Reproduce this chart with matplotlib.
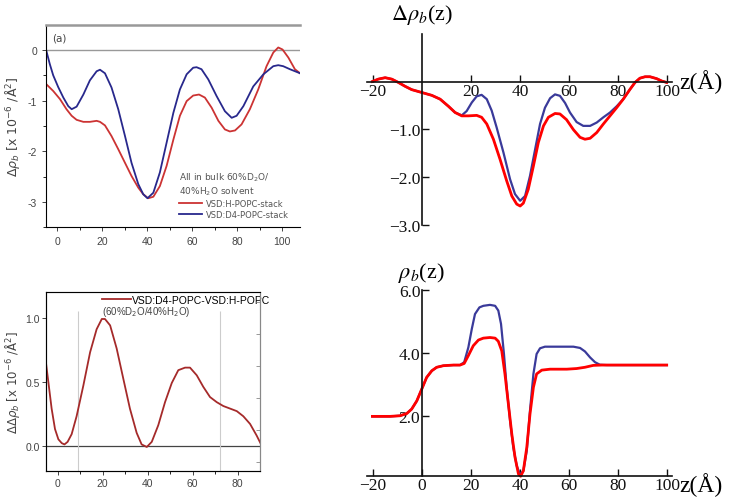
import numpy as np
import matplotlib
matplotlib.use('Agg')
import matplotlib.pyplot as plt

# ---- panel (a): SLD profiles, top left
za_blue = [-5.0, -3.3, -1.8, 0.4, 2.7, 4.9, 6.4, 8.6, 11.6, 14.5, 17.5, 19.0, 21.2, 24.1, 27.1, 30.1,
           33.0, 36.0, 38.2, 40.1, 42.7, 45.6, 48.6, 51.6, 54.5, 57.5, 60.4, 61.9, 64.1, 67.1, 70.8,
           74.5, 77.5, 79.7, 82.7, 87.1, 91.6, 96.0, 98.2, 100.4, 103.4, 107.9]
ra_blue = [0.01, -0.28, -0.50, -0.73, -0.94, -1.11, -1.17, -1.12, -0.88, -0.60, -0.42, -0.39, -0.46,
           -0.74, -1.17, -1.70, -2.23, -2.65, -2.85, -2.93, -2.82, -2.42, -1.83, -1.24, -0.78, -0.48,
           -0.35, -0.34, -0.38, -0.58, -0.91, -1.21, -1.34, -1.30, -1.11, -0.72, -0.48, -0.32, -0.30,
           -0.32, -0.38, -0.46]
za_red = [-5.0, -1.8, 1.2, 4.1, 6.4, 8.6, 11.6, 14.5, 17.5, 19.0, 21.2, 24.1, 27.1, 30.1, 33.0, 36.0,
          38.2, 40.4, 42.7, 45.6, 48.6, 51.6, 54.5, 57.5, 60.4, 63.0, 65.6, 68.6, 71.6, 74.5, 76.7,
          79.0, 81.9, 85.6, 89.3, 93.0, 96.0, 98.2, 100.1, 102.7, 105.6, 107.9]
ra_red = [-0.67, -0.81, -0.97, -1.17, -1.30, -1.38, -1.42, -1.42, -1.40, -1.42, -1.49, -1.70, -1.96,
          -2.23, -2.49, -2.72, -2.85, -2.93, -2.90, -2.69, -2.29, -1.77, -1.30, -1.01, -0.90, -0.88,
          -0.94, -1.14, -1.40, -1.57, -1.61, -1.59, -1.47, -1.17, -0.78, -0.32, -0.05, 0.05, 0.01,
          -0.15, -0.38, -0.46]

# ---- panel (b): difference profile, bottom left
zb = [-5.3, -4.1, -2.7, -1.2, 0.3, 1.8, 3.0, 4.4, 6.2, 8.4, 11.4, 14.4, 17.3, 19.6, 21.0, 23.3, 26.2,
      29.2, 32.1, 35.1, 37.3, 39.6, 41.8, 44.7, 47.7, 50.7, 53.6, 56.6, 58.8, 61.8, 64.7, 67.7, 70.7,
      73.6, 76.6, 79.6, 82.5, 85.5, 88.4, 90.4]
rb = [0.66, 0.49, 0.29, 0.13, 0.05, 0.02, 0.01, 0.03, 0.09, 0.23, 0.47, 0.73, 0.91, 0.99, 0.99, 0.94,
      0.76, 0.52, 0.29, 0.10, 0.01, -0.01, 0.03, 0.16, 0.34, 0.49, 0.59, 0.61, 0.61, 0.55, 0.46, 0.38,
      0.34, 0.31, 0.29, 0.27, 0.23, 0.17, 0.08, 0.01]

# ---- panel (c): model delta rho, top right
zc_red = [-20.1, -17.7, -14.9, -12.2, -9.5, -6.8, -4.1, 0.0, 4.1, 7.5, 10.9, 13.6, 16.3, 19.0, 22.4,
          24.4, 26.5, 29.2, 31.9, 34.6, 36.7, 38.7, 40.1, 41.4, 43.4, 45.5, 47.5, 49.6, 51.6, 54.3,
          56.3, 59.0, 61.8, 64.5, 66.5, 68.6, 71.3, 74.0, 76.7, 79.4, 82.1, 84.9, 86.9, 88.9, 91.0,
          93.0, 95.7, 97.8, 99.8]
rc_red = [0.0, 0.05, 0.08, 0.05, -0.02, -0.10, -0.17, -0.23, -0.29, -0.37, -0.52, -0.65, -0.72, -0.72,
          -0.71, -0.75, -0.89, -1.21, -1.63, -2.08, -2.40, -2.57, -2.61, -2.55, -2.26, -1.77, -1.28,
          -0.93, -0.75, -0.67, -0.68, -0.80, -1.01, -1.17, -1.21, -1.19, -1.07, -0.89, -0.72, -0.55,
          -0.37, -0.16, -0.02, 0.07, 0.10, 0.10, 0.06, 0.01, -0.02]
zc_blue = [-20.1, -17.7, -14.9, -12.2, -9.5, -6.8, -4.1, 0.0, 4.1, 7.5, 10.9, 13.6, 16.3, 18.3, 20.4,
           22.4, 24.4, 26.5, 28.5, 30.5, 33.3, 36.0, 38.0, 40.1, 42.1, 44.1, 46.2, 48.2, 50.2, 52.3,
           54.3, 56.3, 58.4, 60.4, 63.1, 65.8, 68.6, 71.3, 74.0, 76.7, 79.4, 82.1, 84.9, 86.9, 88.9,
           91.0, 93.0, 95.7, 97.8, 99.8]
rc_blue = [0.0, 0.05, 0.08, 0.05, -0.02, -0.10, -0.17, -0.23, -0.29, -0.37, -0.52, -0.65, -0.71, -0.62,
           -0.44, -0.31, -0.28, -0.37, -0.61, -0.96, -1.49, -2.05, -2.36, -2.50, -2.40, -1.98, -1.42,
           -0.89, -0.55, -0.35, -0.27, -0.30, -0.45, -0.65, -0.85, -0.93, -0.93, -0.86, -0.75, -0.65,
           -0.52, -0.37, -0.16, -0.02, 0.07, 0.10, 0.10, 0.06, 0.01, -0.02]

# ---- panel (d): model rho, bottom right
zd_red = [-20.1, -12.9, -8.8, -6.1, -4.1, -2.0, 0.0, 2.0, 4.1, 6.1, 8.8, 12.9, 15.6, 17.3, 19.0, 21.0,
          23.1, 25.1, 27.8, 29.9, 31.2, 32.6, 33.9, 35.3, 36.7, 38.0, 39.4, 40.3, 41.4, 42.8, 44.1,
          45.5, 46.8, 48.9, 52.3, 59.1, 63.1, 66.5, 69.9, 73.3, 99.8]
rd_red = [2.0, 2.0, 2.02, 2.09, 2.23, 2.49, 2.86, 3.23, 3.44, 3.55, 3.60, 3.62, 3.62, 3.67, 3.92, 4.23,
          4.41, 4.47, 4.49, 4.47, 4.37, 4.07, 3.34, 2.39, 1.44, 0.71, 0.18, 0.11, 0.28, 1.02, 2.07,
          2.92, 3.34, 3.46, 3.49, 3.49, 3.51, 3.55, 3.61, 3.62, 3.62]
zd_blue = [-20.1, -12.9, -8.8, -6.1, -4.1, -2.0, 0.0, 2.0, 4.1, 6.1, 8.8, 12.9, 15.6, 17.3, 19.0, 20.4,
           21.7, 23.5, 25.1, 27.8, 29.9, 31.2, 32.3, 33.5, 34.6, 36.0, 37.3, 38.7, 40.1, 41.4, 42.8,
           44.1, 45.5, 46.8, 48.2, 50.2, 61.8, 64.5, 66.5, 68.6, 70.6, 72.6, 75.4, 99.8]
rd_blue = [2.0, 2.0, 2.02, 2.09, 2.23, 2.49, 2.86, 3.23, 3.44, 3.55, 3.60, 3.62, 3.62, 3.71, 4.18, 4.76,
           5.23, 5.44, 5.49, 5.52, 5.49, 5.34, 4.92, 3.97, 2.92, 1.86, 1.02, 0.44, 0.16, 0.28, 0.92,
           2.18, 3.34, 3.97, 4.15, 4.20, 4.20, 4.16, 4.05, 3.86, 3.71, 3.63, 3.62, 3.62]

W, H = 729, 502
fig = plt.figure(figsize=(W / 100, H / 100), dpi=100)

def rect(l, r, t, b):
    return [l / W, (H - b) / H, (r - l) / W, (b - t) / H]

sans = 'Liberation Sans'

# ---------------- (a)
ax = fig.add_axes(rect(46, 300.3, 25.7, 228.1))
ax.plot(za_red, ra_red, color='#cc3333', lw=1.3)
ax.plot(za_blue, ra_blue, color='#28288c', lw=1.3)
ax.axhline(0, color='#999999', lw=1.0, zorder=0)
ax.set_xlim(-5, 108)
ax.set_ylim(-3.5, 0.5)
ax.spines['right'].set_visible(False)
ax.spines['top'].set_color('#999999')
ax.spines['top'].set_linewidth(1.8)
ax.set_xticks([0, 20, 40, 60, 80, 100])
ax.set_xticks(np.arange(10, 110, 20), minor=True)
ax.set_yticks([0, -1, -2, -3])
ax.set_yticklabels(['0', '-1', '-2', '-3'])
ax.set_yticks([-0.5, -1.5, -2.5, -3.5], minor=True)
ax.tick_params(labelsize=7.5, colors='#444444', length=3, width=0.7, labelfontfamily=sans)
ax.tick_params(which='minor', length=2, width=0.6)
ax.set_ylabel(r'$\Delta\rho_b$ [x 10$^{-6}$ /Å$^2$]', fontsize=9, color='#444444', labelpad=4,
              math_fontfamily='dejavusans')
ax.text(0.025, 0.96, '(a)', transform=ax.transAxes, fontsize=7.5, color='#444444', va='top')
hr, = ax.plot([], [], color='#cc3333', lw=1.3)
hb, = ax.plot([], [], color='#28288c', lw=1.3)
leg = ax.legend([hr, hb], ['VSD:H-POPC-stack', 'VSD:D4-POPC-stack'],
                title='All in bulk 60%D$_2$O/\n40%H$_2$O solvent', title_fontsize=6.5, fontsize=6.0,
                loc='upper left', bbox_to_anchor=(0.5, 0.31), frameon=False, handlelength=2.8,
                borderpad=0.2, labelspacing=0.25, handletextpad=0.4)
leg._legend_box.align = 'left'
for t in leg.get_texts():
    t.set_color('#555555')
leg.get_title().set_color('#555555')
leg.get_title().set_math_fontfamily('dejavusans')

# ---------------- (b)
ax = fig.add_axes(rect(46.45, 260.2, 293.1, 472.3))
ax.plot(zb, rb, color='#a52a2a', lw=1.3, label='VSD:D4-POPC-VSD:H-POPC')
ax.axhline(0, color='#444444', lw=0.9, zorder=0)
ax.vlines([9, 72], -0.2, 1.05, color='#cccccc', lw=0.8, zorder=0)
ax.set_xlim(-5, 90)
ax.set_ylim(-0.2, 1.2)
for s in ax.spines.values():
    s.set_color('#888888')
    s.set_linewidth(0.8)
ax.spines['left'].set_color('#555555')
ax.spines['bottom'].set_color('#555555')
ax.set_xticks([0, 20, 40, 60, 80])
ax.set_xticks(np.arange(10, 90, 20), minor=True)
ax.set_yticks([0.0, 0.5, 1.0])
ax.set_yticklabels(['0.0', '0.5', '1.0'])
ax.tick_params(labelsize=7.5, colors='#444444', length=3, width=0.7, labelfontfamily=sans, pad=2)
ax.tick_params(which='minor', length=2, width=0.6)
ax2 = ax.twinx()
ax2.set_ylim(-0.2, 1.2)
ax2.set_yticks(np.arange(-0.125, 1.2, 0.25))
ax2.tick_params(direction='in', length=3, width=0.6, colors='#888888', labelright=False)
ax2.spines['right'].set_color('#888888')
ax.set_ylabel(r'$\Delta\Delta\rho_b$ [x 10$^{-6}$ /Å$^2$]', fontsize=8.5, color='#444444', labelpad=2,
              math_fontfamily='dejavusans')
ax.legend(loc='upper left', bbox_to_anchor=(0.23, 1.02), frameon=False,
          handlelength=2.8, handletextpad=0.1, borderpad=0.1, prop={'family': sans, 'size': 7.5})
ax.text(0.26, 0.895, '(60%D$_2$O/40%H$_2$O)', transform=ax.transAxes, fontsize=7, color='#444444',
        va='center', ha='left', family=sans, math_fontfamily='dejavusans')

# ---------------- (c) and (d): Mathematica style axes
serif = 'Liberation Serif'
blue_m = '#3a3a9a'
red_m = '#ff0000'

def math_axes(a, ybounds, xbase):
    a.spines['top'].set_visible(False)
    a.spines['right'].set_visible(False)
    a.spines['left'].set_position(('data', 0))
    a.spines['bottom'].set_position(('data', xbase))
    a.spines['left'].set_bounds(*ybounds)
    a.spines['bottom'].set_bounds(-22.5, 102)
    for s in ('left', 'bottom'):
        a.spines[s].set_linewidth(1.2)
        a.spines[s].set_color('#111111')
    a.set_xlim(-22.5, 102)
    a.tick_params(direction='in', length=5, width=1.0, labelsize=12.5, colors='#111111')
    a.tick_params(axis='y', pad=1)
    a.tick_params(axis='x', pad=1)
    for lab in a.get_xticklabels() + a.get_yticklabels():
        lab.set_family(serif)

ax = fig.add_axes(rect(366.5, 672.1, 34.8, 230.4))
ax.plot(zc_blue, rc_blue, color=blue_m, lw=1.6)
ax.plot(zc_red, rc_red, color=red_m, lw=2.0)
ax.set_ylim(-3.1, 1.0)
ax.set_xticks([-20, 20, 40, 60, 80, 100])
ax.set_xticklabels(['\u221220', '20', '40', '60', '80', '100'])
ax.set_yticks([-1, -2, -3])
ax.set_yticklabels(['\u22121.0', '\u22122.0', '\u22123.0'])
math_axes(ax, (-3.0, 1.0), 0)
ax.text(0, 1.42, r'$\Delta\rho_b$(z)', fontsize=16, ha='center', va='center', family=serif,
        math_fontfamily='stix', clip_on=False)
ax.text(105, 0, 'z(Å)', fontsize=17, ha='left', va='center', family=serif, clip_on=False)

ax = fig.add_axes(rect(366.5, 672.1, 287.5, 493.4))
ax.plot(zd_blue, rd_blue, color=blue_m, lw=1.6)
ax.plot(zd_red, rd_red, color=red_m, lw=2.0)
ax.set_ylim(-0.4, 6.1)
ax.set_xticks([-20, 0, 20, 40, 60, 80, 100])
ax.set_xticklabels(['\u221220', '0', '20', '40', '60', '80', '100'])
ax.set_yticks([2, 4, 6])
ax.set_yticklabels(['2.0', '4.0', '6.0'])
math_axes(ax, (0.12, 6.0), 0.12)
ax.text(0, 6.56, r'$\rho_b$(z)', fontsize=16, ha='center', va='center', family=serif,
        math_fontfamily='stix', clip_on=False)
ax.text(105, -0.15, 'z(Å)', fontsize=17, ha='left', va='center', family=serif, clip_on=False)

fig.savefig('out.png', dpi=100)
